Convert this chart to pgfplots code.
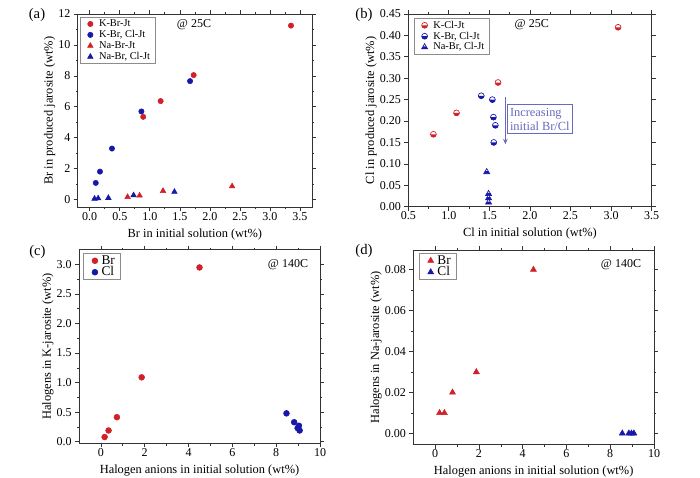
\documentclass[border=0pt]{standalone}
\usepackage{fontspec}
\setmainfont{Liberation Serif}
\usepackage{pgfplots}
\pgfplotsset{compat=1.18}
\usetikzlibrary{arrows.meta,plotmarks}
\definecolor{mred}{RGB}{210,32,42}
\definecolor{mblue}{RGB}{24,24,168}
\definecolor{annot}{RGB}{105,105,190}

\pgfdeclareplotmark{hcirc}{%
  \begin{pgfscope}\pgfsetfillcolor{white}\pgfpathcircle{\pgfpointorigin}{\pgfplotmarksize}\pgfusepathqfill\end{pgfscope}%
  \pgfpathmoveto{\pgfqpoint{\pgfplotmarksize}{0pt}}%
  \pgfpatharc{0}{-180}{\pgfplotmarksize}%
  \pgfpathclose\pgfusepathqfill
  \pgfpathcircle{\pgfpointorigin}{\pgfplotmarksize}\pgfusepathqstroke
}
\pgfdeclareplotmark{htri}{%
  \begin{pgfscope}\pgfsetfillcolor{white}%
  \pgfpathmoveto{\pgfpoint{0pt}{\pgfplotmarksize}}%
  \pgfpathlineto{\pgfpoint{0.866\pgfplotmarksize}{-0.5\pgfplotmarksize}}%
  \pgfpathlineto{\pgfpoint{-0.866\pgfplotmarksize}{-0.5\pgfplotmarksize}}%
  \pgfpathclose\pgfusepathqfill\end{pgfscope}%
  \pgfpathmoveto{\pgfpoint{-0.866\pgfplotmarksize}{-0.5\pgfplotmarksize}}%
  \pgfpathlineto{\pgfpoint{0.866\pgfplotmarksize}{-0.5\pgfplotmarksize}}%
  \pgfpathlineto{\pgfpoint{0.433\pgfplotmarksize}{0.25\pgfplotmarksize}}%
  \pgfpathlineto{\pgfpoint{-0.433\pgfplotmarksize}{0.25\pgfplotmarksize}}%
  \pgfpathclose\pgfusepathqfill
  \pgfpathmoveto{\pgfpoint{0pt}{\pgfplotmarksize}}%
  \pgfpathlineto{\pgfpoint{0.866\pgfplotmarksize}{-0.5\pgfplotmarksize}}%
  \pgfpathlineto{\pgfpoint{-0.866\pgfplotmarksize}{-0.5\pgfplotmarksize}}%
  \pgfpathclose\pgfusepathqstroke
}

\pgfplotsset{panel/.style={
  scale only axis, anchor=north west,
  tick align=outside, tick pos=both,
  minor tick num=1,
  major tick length=3pt, minor tick length=1.6pt,
  every tick/.style={black!80, line width=0.5pt},
  axis line style={black!80, line width=0.6pt},
  tick label style={font=\fontsize{9}{10}\selectfont},
  xticklabel style={yshift=2.6pt},
  yticklabel style={xshift=1pt},
  label style={font=\fontsize{9.3}{10}\selectfont},
  xlabel style={yshift=0.8pt},
  ylabel style={yshift=-4.5pt},
  /pgf/number format/assume math mode=true,
  scaled ticks=false,
  legend cell align=left,
  legend style={draw=black!45, line width=0.4pt, anchor=north west, inner xsep=2pt},
},
smalllegend/.style={
  legend style={font=\fontsize{7.8}{8}\selectfont, inner ysep=1pt,
    nodes={inner ysep=0pt, text height=6.2pt, text depth=2pt}},
  legend image code/.code={\path[draw=none,fill=none] (0pt,0pt) (10pt,0pt); \draw[##1] plot coordinates {(5.5pt,0pt)};},
},
biglegend/.style={
  legend style={font=\fontsize{10}{11}\selectfont, inner ysep=1.3pt,
    nodes={inner ysep=0pt, text height=7pt, text depth=1.6pt}},
  legend image code/.code={\path[draw=none,fill=none] (0pt,0pt) (9.5pt,0pt); \draw[##1] plot coordinates {(6.5pt,0pt)};},
}}

\begin{document}
\begin{tikzpicture}
\path[use as bounding box] (0,0) rectangle (525pt,-358.5pt);

% (a)
\begin{axis}[panel, smalllegend, at={(58.3pt,-10.5pt)}, width=175.7pt, height=145pt,
  xmin=-0.2, xmax=3.7, ymin=-0.5, ymax=12,
  xtick={0,0.5,1,1.5,2,2.5,3,3.5}, ytick={0,2,4,6,8,10,12},
  xticklabel style={/pgf/number format/fixed,/pgf/number format/fixed zerofill,/pgf/number format/precision=1},
  xlabel={Br in initial solution (wt\%)}, ylabel={Br in produced jarosite (wt\%)},
  legend style={at={(0.01,0.985)}}]
\addplot[only marks, mark=*, mark size=2pt, color=mred] coordinates {(0.89,5.35) (1.18,6.37) (1.73,8.05) (3.35,11.25)};
\addlegendentry{K-Br-Jt}
\addplot[only marks, mark=*, mark size=2pt, color=mblue] coordinates {(0.10,1.08) (0.17,1.81) (0.37,3.30) (0.86,5.70) (1.67,7.66)};
\addlegendentry{K-Br, Cl-Jt}
\addplot[only marks, mark=triangle*, mark size=2.4pt, color=mred] coordinates {(0.63,0.17) (0.83,0.26) (1.22,0.56) (2.37,0.86)};
\addlegendentry{Na-Br-Jt}
\addplot[only marks, mark=triangle*, mark size=2.4pt, color=mblue] coordinates {(0.08,0.06) (0.14,0.08) (0.31,0.11) (0.73,0.28) (1.41,0.50)};
\addlegendentry{Na-Br, Cl-Jt}
\end{axis}

% (b)
\begin{axis}[panel, smalllegend, at={(306.2pt,-10.5pt)}, width=182.5pt, height=144.5pt,
  xmin=0.5, xmax=3.5, ymin=0, ymax=0.45,
  xtick={0.5,1,1.5,2,2.5,3,3.5}, ytick={0,0.05,0.1,0.15,0.2,0.25,0.3,0.35,0.4,0.45},
  minor y tick num=0,
  xticklabel style={/pgf/number format/fixed,/pgf/number format/fixed zerofill,/pgf/number format/precision=1},
  yticklabel style={/pgf/number format/fixed,/pgf/number format/fixed zerofill,/pgf/number format/precision=2},
  xlabel={Cl in initial solution (wt\%)}, ylabel={Cl in produced jarosite (wt\%)},
  clip=false,
  legend style={at={(0.025,0.978)}}]
\addplot[only marks, mark=hcirc, mark size=2.2pt, color=mred, mark options={line width=0.5pt}] coordinates {(0.81,0.169) (1.095,0.219) (1.607,0.29) (3.087,0.419)};
\addlegendentry{K-Cl-Jt}
\addplot[only marks, mark=hcirc, mark size=2.2pt, color=mblue, mark options={line width=0.5pt}] coordinates {(1.40,0.259) (1.537,0.25) (1.55,0.209) (1.574,0.19) (1.554,0.15)};
\addlegendentry{K-Br, Cl-Jt}
\addplot[only marks, mark=htri, mark size=2.6pt, color=mblue, mark options={line width=0.5pt}] coordinates {(1.467,0.081) (1.49,0.03) (1.49,0.02) (1.49,0.01)};
\addlegendentry{Na-Br, Cl-Jt}
\draw[annot, line width=0.8pt, -{Stealth[length=4pt,width=3.5pt]}] (axis cs:1.697,0.257) -- (axis cs:1.697,0.146);
\node[draw=annot, text=annot, line width=0.6pt, align=left, inner xsep=1.8pt, inner ysep=2.6pt, anchor=west, font=\fontsize{9.3}{10.5}\selectfont] at (axis cs:1.72,0.2045) {Increasing\\initial Br/Cl};
\end{axis}

% (c)
\begin{axis}[panel, biglegend, at={(59.25pt,-187.3pt)}, width=180.75pt, height=145.3pt,
  xmin=-1, xmax=10, ymin=-0.03, ymax=3.25,
  xtick={0,2,4,6,8,10}, ytick={0,0.5,1,1.5,2,2.5,3},
  yticklabel style={/pgf/number format/fixed,/pgf/number format/fixed zerofill,/pgf/number format/precision=1},
  xlabel={Halogen anions in initial solution (wt\%)}, ylabel={Halogens in K-jarosite (wt\%)},
  legend style={at={(0.018,0.983)}}]
\addplot[only marks, mark=*, mark size=2.2pt, color=mred] coordinates {(0.17,0.079) (0.35,0.19) (0.73,0.415) (1.86,1.09) (4.5,2.95)};
\addlegendentry{Br}
\addplot[only marks, mark=*, mark size=2.2pt, color=mblue] coordinates {(8.47,0.48) (8.82,0.33) (9.04,0.27) (8.98,0.23) (9.07,0.19)};
\addlegendentry{Cl}
\end{axis}

% (d)
\begin{axis}[panel, biglegend, at={(310pt,-187.7pt)}, width=180.5pt, height=145.8pt,
  xmin=-1, xmax=10, ymin=-0.0055, ymax=0.0895,
  xtick={0,2,4,6,8,10}, ytick={0,0.02,0.04,0.06,0.08},
  yticklabel style={/pgf/number format/fixed,/pgf/number format/fixed zerofill,/pgf/number format/precision=2},
  xlabel={Halogen anions in initial solution (wt\%)}, ylabel={Halogens in Na-jarosite (wt\%)},
  legend style={at={(0.024,0.986)}}]
\addplot[only marks, mark=triangle*, mark size=2.6pt, color=mred] coordinates {(0.2,0.01) (0.42,0.01) (0.79,0.02) (1.88,0.03) (4.49,0.08)};
\addlegendentry{Br}
\addplot[only marks, mark=triangle*, mark size=2.6pt, color=mblue] coordinates {(8.55,0) (8.85,0) (8.97,0) (9.08,0)};
\addlegendentry{Cl}
\end{axis}

\node[font=\fontsize{11}{12}\selectfont] at (27.75pt,-11.25pt) {(a)};
\node[font=\fontsize{11}{12}\selectfont] at (273pt,-11.25pt) {(b)};
\node[font=\fontsize{11}{12}\selectfont] at (28.1pt,-189pt) {(c)};
\node[font=\fontsize{11}{12}\selectfont] at (273pt,-188.5pt) {(d)};
\node[font=\fontsize{9}{10}\selectfont] at (145.5pt,-18.75pt) {@ 25C};
\node[font=\fontsize{9}{10}\selectfont] at (398.8pt,-18.75pt) {@ 25C};
\node[font=\fontsize{9}{10}\selectfont] at (216pt,-198.5pt) {@ 140C};
\node[font=\fontsize{9}{10}\selectfont] at (465.75pt,-198.5pt) {@ 140C};
\end{tikzpicture}
\end{document}
